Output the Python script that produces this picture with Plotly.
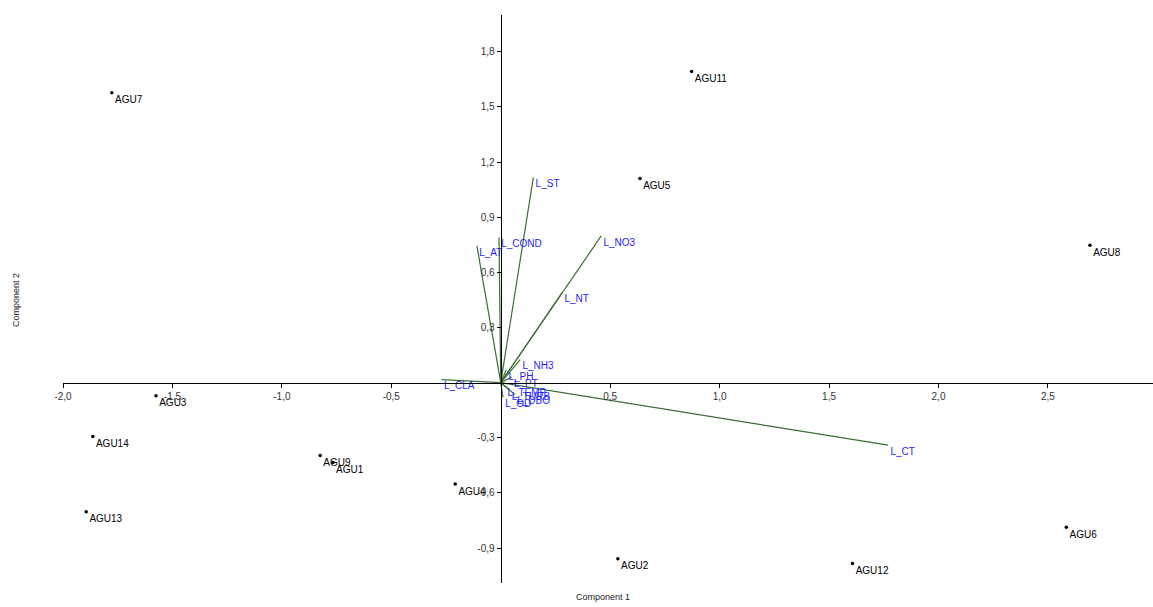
import plotly.graph_objects as go

# Sample scores (Component 1, Component 2)
samples = ["AGU1", "AGU2", "AGU3", "AGU4", "AGU5", "AGU6", "AGU7",
           "AGU8", "AGU9", "AGU11", "AGU12", "AGU13", "AGU14"]
score_x = [-0.767, 0.535, -1.575, -0.208, 0.636, 2.584, -1.777,
           2.692, -0.825, 0.872, 1.607, -1.894, -1.864]
score_y = [-0.435, -0.958, -0.071, -0.551, 1.111, -0.787, 1.577,
           0.748, -0.397, 1.693, -0.984, -0.702, -0.293]

# Variable loadings
variables = ["L_ST", "L_NO3", "L_NT", "L_AT", "L_COND", "L_CT", "L_CLA",
             "L_NH3", "L_PH", "L_PT", "L_TEMP", "L_TURB", "L_DBO", "L_OD"]
load_x = [0.149, 0.459, 0.281, -0.109, -0.008, 1.77, -0.27,
          0.089, 0.025, 0.05, 0.02, 0.04, 0.065, 0.01]
load_y = [1.117, 0.798, 0.491, 0.744, 0.79, -0.34, 0.016,
          0.125, 0.07, 0.03, -0.02, -0.04, -0.065, -0.08]

# Axis ticks
x_ticks = [-2.0, -1.5, -1.0, -0.5, 0.5, 1.0, 1.5, 2.0, 2.5]
x_tick_labels = ["-2,0", "-1,5", "-1,0", "-0,5", "0,5", "1,0", "1,5", "2,0", "2,5"]
y_ticks = [-0.9, -0.6, -0.3, 0.3, 0.6, 0.9, 1.2, 1.5, 1.8]
y_tick_labels = ["-0,9", "-0,6", "-0,3", "0,3", "0,6", "0,9", "1,2", "1,5", "1,8"]

x_range = [-2.0, 2.98]
y_range = [-1.09, 2.0]

FONT = "Liberation Sans, Arial, sans-serif"

fig = go.Figure()

# loading vectors
lx, ly = [], []
for vx, vy in zip(load_x, load_y):
    lx += [0, vx, None]
    ly += [0, vy, None]
fig.add_trace(go.Scatter(x=lx, y=ly, mode="lines",
                         line=dict(color="#3a6e34", width=1.2),
                         hoverinfo="skip", showlegend=False))
fig.add_trace(go.Scatter(x=load_x, y=load_y, mode="markers+text", text=variables,
                         textposition="bottom right",
                         marker=dict(size=2, color="rgba(0,0,0,0)"),
                         textfont=dict(family=FONT, size=10, color="#1e1eff"),
                         showlegend=False))

# sample points
fig.add_trace(go.Scatter(x=score_x, y=score_y, mode="markers+text", text=samples,
                         textposition="bottom right",
                         marker=dict(color="black", size=3.5),
                         textfont=dict(family=FONT, size=10, color="black"),
                         showlegend=False))

x_pos = (0 - y_range[0]) / (y_range[1] - y_range[0])
y_pos = (0 - x_range[0]) / (x_range[1] - x_range[0])

L, R, T, B = 63, 0, 15, 24
pw = 1153 - L - R
ph = 607 - T - B

fig.update_layout(
    width=1153, height=607,
    margin=dict(l=L, r=R, t=T, b=B, autoexpand=False),
    plot_bgcolor="white", paper_bgcolor="white",
    font=dict(family=FONT, size=10, color="#222"),
    xaxis=dict(range=x_range, anchor="free", position=x_pos,
               showline=True, linecolor="black", linewidth=1.3,
               ticks="outside", ticklen=4, tickcolor="black",
               tickvals=x_ticks, ticktext=x_tick_labels,
               showgrid=False, zeroline=False,
               tickfont=dict(family=FONT, size=10, color="#333")),
    yaxis=dict(range=y_range, anchor="free", position=y_pos,
               showline=True, linecolor="black", linewidth=1.3,
               ticks="outside", ticklen=4, tickcolor="black",
               tickvals=y_ticks, ticktext=y_tick_labels,
               showgrid=False, zeroline=False,
               tickfont=dict(family=FONT, size=10, color="#333")),
    annotations=[
        dict(text="Component 1", x=(603 - L) / pw, y=(607 - B - 597) / ph,
             xref="paper", yref="paper", xanchor="center", yanchor="middle",
             showarrow=False, font=dict(family=FONT, size=9, color="#222")),
        dict(text="Component 2", x=(16 - L) / pw, y=(607 - B - 300) / ph,
             xref="paper", yref="paper", xanchor="center", yanchor="middle",
             showarrow=False, textangle=-90,
             font=dict(family=FONT, size=9, color="#222")),
    ],
)

fig.write_html(
    "out.html",
    config={"displayModeBar": False},
    post_script="document.body.style.margin='0';document.body.style.overflow='hidden';",
)
